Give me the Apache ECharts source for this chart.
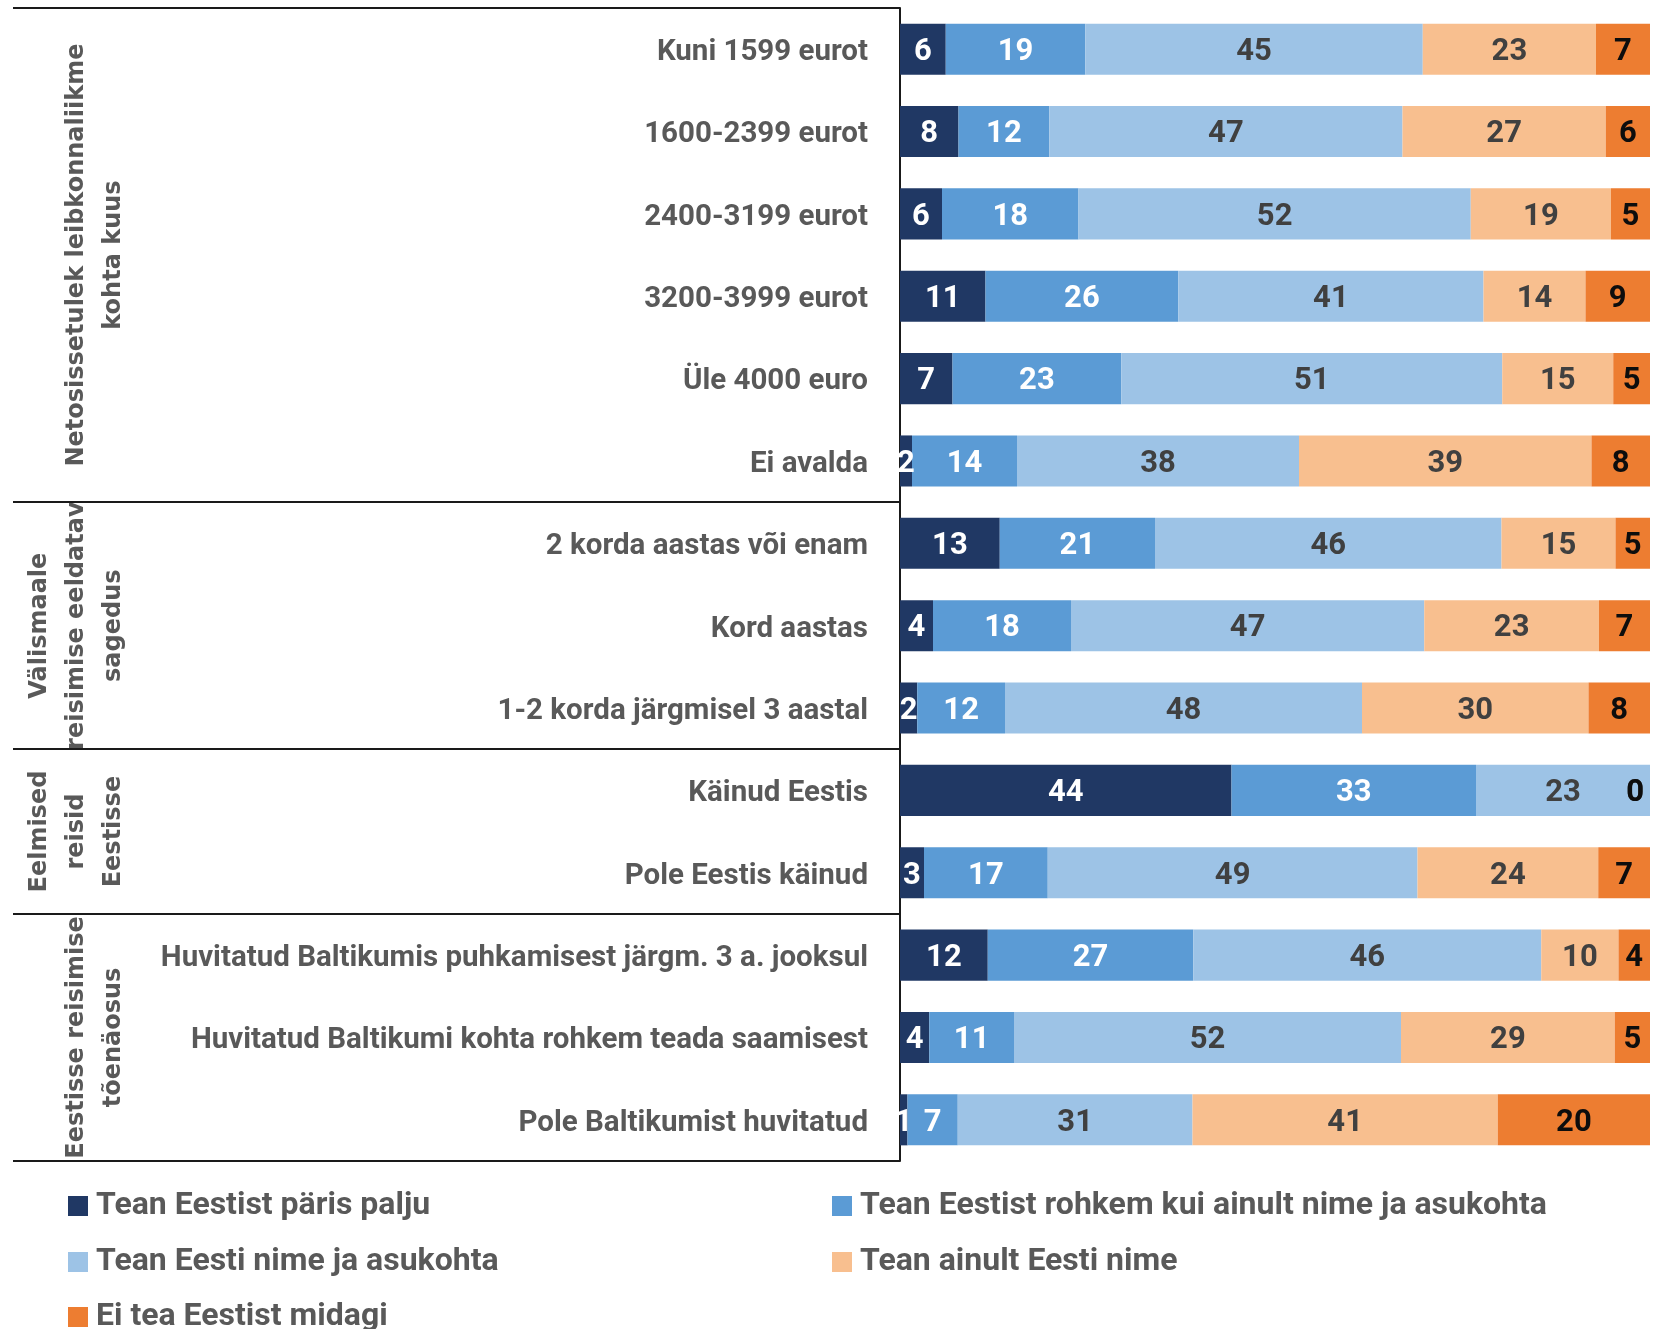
<!DOCTYPE html>
<html>
<head>
<meta charset="utf-8">
<script src="https://cdn.jsdelivr.net/npm/echarts@6/dist/echarts.min.js"></script>
<style>
  html, body { margin: 0; padding: 0; background: #fff; }
  #chart { width: 1656px; height: 1329px; }
</style>
</head>
<body>
<div id="chart"></div>
<script>
const categories = [
  "Kuni 1599 eurot",
  "1600-2399 eurot",
  "2400-3199 eurot",
  "3200-3999 eurot",
  "Üle 4000 euro",
  "Ei avalda",
  "2 korda aastas või enam",
  "Kord aastas",
  "1-2 korda järgmisel 3 aastal",
  "Käinud Eestis",
  "Pole Eestis käinud",
  "Huvitatud Baltikumis puhkamisest järgm. 3 a. jooksul",
  "Huvitatud Baltikumi kohta rohkem teada saamisest",
  "Pole Baltikumist huvitatud"
];

const groupLabels = [
  "Netosissetulek leibkonnaliikme\nkohta kuus",
  "Välismaale\nreisimise eeldatav\nsagedus",
  "Eelmised\nreisid\nEestisse",
  "Eestisse reisimise\ntõenäosus"
];
// number of categories in each group
const groupSizes = [6, 3, 2, 3];

const seriesNames = [
  "Tean Eestist päris palju",
  "Tean Eestist rohkem kui ainult nime ja asukohta",
  "Tean Eesti nime ja asukohta",
  "Tean ainult Eesti nime",
  "Ei tea Eestist midagi"
];

const paljuValues    = [6.1, 7.8, 5.6, 11.4, 7.0, 1.6, 13.3, 4.4, 2.3, 44.2, 3.2, 11.7, 3.9, 1.0];
const rohkemValues   = [18.6, 12.1, 18.2, 25.7, 22.5, 14.0, 20.7, 18.4, 11.7, 32.6, 16.5, 27.4, 11.3, 6.7];
const nimiAsukValues = [45.0, 47.1, 52.3, 40.7, 50.8, 37.6, 46.2, 47.1, 47.6, 23.2, 49.3, 46.4, 51.6, 31.3];
const ainultValues   = [23.1, 27.1, 18.7, 13.6, 14.8, 39.0, 15.2, 23.3, 30.2, 0, 24.1, 10.3, 28.5, 40.7];
const midagiValues   = [7.2, 5.9, 5.2, 8.6, 4.9, 7.8, 4.6, 6.8, 8.2, 0, 6.9, 4.2, 4.7, 20.3];

const seriesValues = [paljuValues, rohkemValues, nimiAsukValues, ainultValues, midagiValues];
const seriesColors = ["#203864", "#5B9BD5", "#9DC3E6", "#F8BF8F", "#ED7D31"];
const labelColors  = ["#ffffff", "#ffffff", "#404040", "#404040", "#0d0d0d"];

const FONT = "Roboto, 'Liberation Sans', sans-serif";
const GROUP_FONT = "'DejaVu Sans', Verdana, sans-serif";
const TEXT_GREY = "#595959";

const chart = echarts.init(document.getElementById('chart'), null, { renderer: 'canvas' });

const GRID_TOP = 8, GRID_HEIGHT = 1153, GRID_LEFT = 900;

const legends = [];
const legendPos = [[68, 1206], [832, 1206], [68, 1262], [832, 1262], [68, 1317]];
seriesNames.forEach((n, i) => {
  legends.push({
    data: [n],
    left: legendPos[i][0],
    top: legendPos[i][1] - 18,
    padding: 0,
    itemWidth: 20,
    itemHeight: 20,
    icon: 'rect',
    selectedMode: false,
    textStyle: {
      fontFamily: FONT, fontSize: 32, fontWeight: 'bold', color: TEXT_GREY,
      lineHeight: 36, padding: [0, 0, 0, 3]
    }
  });
});

const option = {
  animation: false,
  backgroundColor: '#ffffff',
  grid: { left: GRID_LEFT, right: 6, top: GRID_TOP, height: GRID_HEIGHT, containLabel: false },
  xAxis: { type: 'value', min: 0, max: 100, show: false },
  yAxis: {
    type: 'category',
    data: categories,
    inverse: true,
    axisLine: { show: true, lineStyle: { color: '#1a1a1a', width: 2 } },
    axisTick: { show: false },
    splitLine: { show: false },
    axisLabel: {
      margin: 32,
      formatter: v => '{c|' + v + '}',
      rich: {
        c: {
          fontFamily: FONT, fontSize: 29.5, fontWeight: 'bold', color: TEXT_GREY,
          padding: [7, 0, 0, 0]
        }
      }
    }
  },
  legend: legends,
  series: seriesNames.map((n, i) => ({
    name: n,
    type: 'bar',
    stack: 'total',
    barCategoryGap: '38%',
    itemStyle: { color: seriesColors[i] },
    label: {
      show: true,
      position: 'inside',
      offset: [0, 3],
      formatter: p => String(Math.round(p.value)),
      fontFamily: FONT, fontSize: 31, fontWeight: 'bold', color: labelColors[i]
    },
    data: seriesValues[i].map(v => (v === 0 && i >= 3)
      ? { value: v, label: { position: 'insideRight', distance: 6 } }
      : v)
  }))
};

chart.setOption(option);

// group separators and group labels, positioned from the category axis
function catY(idx) { return chart.convertToPixel({ yAxisIndex: 0 }, idx); }
const band = catY(1) - catY(0);
const topY = catY(0) - band / 2;
const graphics = [];
const lineStyle = { stroke: '#1a1a1a', lineWidth: 2 };
let start = 0;
const boundaries = [topY];
groupSizes.forEach((sz, g) => {
  const y0 = catY(start) - band / 2;
  const y1 = catY(start + sz - 1) + band / 2;
  boundaries.push(y1);
  graphics.push({
    type: 'text',
    x: 132,
    y: (y0 + y1) / 2,
    rotation: Math.PI / 2,
    style: {
      text: groupLabels[g],
      align: 'center',
      verticalAlign: 'bottom',
      lineHeight: 37,
      fill: TEXT_GREY,
      font: "bold 24px " + GROUP_FONT
    }
  });
  start += sz;
});
boundaries.forEach(y => {
  graphics.push({
    type: 'line',
    shape: { x1: 13, y1: Math.round(y), x2: GRID_LEFT, y2: Math.round(y) },
    style: lineStyle
  });
});
chart.setOption({ graphic: graphics });
</script>
</body>
</html>
